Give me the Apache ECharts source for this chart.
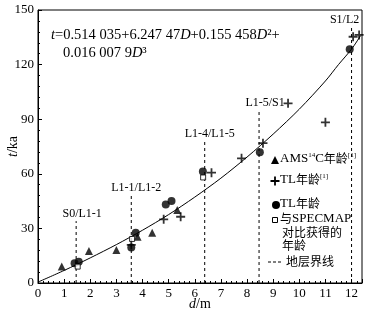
<!DOCTYPE html>
<html><head><meta charset="utf-8">
<script src="https://cdn.jsdelivr.net/npm/echarts@6/dist/echarts.min.js"></script>
<style>html,body{margin:0;padding:0;background:#fff}#c{width:373px;height:318px}</style>
</head><body><div id="c"></div>
<script>
// ---- data ----
const curveD = [0, 1, 2, 3, 4, 5, 6, 7, 8, 9, 10, 11, 11.5, 12, 12.35];
const curveT = [0.5, 6.9, 13.8, 21.1, 29.0, 37.6, 47.2, 57.6, 69.2, 81.8, 95.5, 111, 120, 128.5, 136];

const amsD = [0.91, 1.95, 3.0, 3.81, 4.37, 5.33];
const amsT = [9.0, 17.6, 18.1, 25.4, 27.6, 40.1];

const tl1D = [3.57, 4.81, 5.46, 6.64, 7.79, 8.61, 9.57, 11.0, 12.06, 12.29];
const tl1T = [20.9, 35.0, 36.4, 60.6, 68.5, 76.8, 98.7, 88.3, 135.3, 136.3];

const tlD = [1.40, 1.56, 3.57, 3.74, 4.89, 5.11, 6.31, 8.49, 11.93];
const tlT = [10.8, 11.7, 19.5, 27.6, 43.2, 45.1, 61.2, 71.8, 128.4];

const specD = [1.52, 3.60, 6.32];
const specT = [9.0, 24.2, 58.0];

const boundaryNames = ['S0/L1-1', 'L1-1/L1-2', 'L1-4/L1-5', 'L1-5/S1', 'S1/L2'];
const boundaryD = [1.46, 3.57, 6.38, 8.46, 12.0];
const boundaryTop = [34, 48.4, 78, 95, 140.8];

const xMin = 0, xMax = 12.4, xStep = 1;
const yMin = 0, yMax = 150, yStep = 30;

// ---- styling ----
const SERIF = '"Liberation Serif","DejaVu Serif",serif';
const CJK = '"Noto Sans CJK SC","Liberation Serif",serif';
const labelDx = [6, 5, 5, 6, -7];
const PLUS = 'path://M4,0H6V4H10V6H6V10H4V6H0V4H4Z';

const zip = (a, b) => a.map((v, i) => [v, b[i]]);

const series = [];
series.push({
  type: 'line', data: zip(curveD, curveT), smooth: 0.3, showSymbol: false,
  lineStyle: { color: '#000', width: 1 }, z: 2, silent: true
});
boundaryD.forEach((d, i) => {
  series.push({
    type: 'line', data: [[d, 0], [d, boundaryTop[i]]], showSymbol: false,
    lineStyle: { color: '#000', width: 1, type: [3, 3] }, z: 1, silent: true
  });
});
series.push({
  type: 'scatter', data: zip(amsD, amsT), symbol: 'triangle', symbolSize: 8,
  itemStyle: { color: '#000' }, z: 4
});
series.push({
  type: 'scatter', data: zip(tl1D, tl1T), symbol: PLUS, symbolSize: 9,
  itemStyle: { color: '#000' }, z: 4
});
series.push({
  type: 'scatter', data: zip(tlD, tlT), symbol: 'circle', symbolSize: 8,
  itemStyle: { color: '#000' }, z: 4
});
series.push({
  type: 'scatter', data: zip(specD, specT), symbol: 'rect', symbolSize: 5,
  itemStyle: { color: '#fff', borderColor: '#000', borderWidth: 1 }, z: 5
});

// legend drawn as graphic
const lx = 275, tx = 280;
const plusPts = (cx, cy, s) => {
  const a = s / 2, b = s / 10;
  return [[cx - b, cy - a], [cx + b, cy - a], [cx + b, cy - b], [cx + a, cy - b], [cx + a, cy + b], [cx + b, cy + b],
          [cx + b, cy + a], [cx - b, cy + a], [cx - b, cy + b], [cx - a, cy + b], [cx - a, cy - b], [cx - b, cy - b]];
};
const eqRich = { i: { fontFamily: SERIF, fontSize: 14.5, fontStyle: 'italic' }, n: { fontFamily: SERIF, fontSize: 14.5 } };
const graphic = [
  { type: 'text', x: 51, y: 28, style: { rich: eqRich,
      text: '{i|t}{n|=0.514 035+6.247 47}{i|D}{n|+0.155 458}{i|D}{n|²+}', fill: '#000' } },
  { type: 'text', x: 63, y: 46, style: { rich: eqRich,
      text: '{n|0.016 007 9}{i|D}{n|³}', fill: '#000' } },
  // legend markers
  { type: 'polygon', shape: { points: [[lx - 4, 164], [lx + 4, 164], [lx, 156]] }, style: { fill: '#000' } },
  { type: 'polygon', shape: { points: plusPts(lx, 181, 9) }, style: { fill: '#000' } },
  { type: 'circle', shape: { cx: lx + 1, cy: 205, r: 4 }, style: { fill: '#000' } },
  { type: 'rect', shape: { x: lx - 2.5, y: 217.5, width: 5, height: 5 }, style: { fill: '#fff', stroke: '#000', lineWidth: 1 } },
  { type: 'line', shape: { x1: 268, y1: 262, x2: 282, y2: 262 }, style: { stroke: '#000', lineWidth: 1, lineDash: [3, 2] } },
  // legend texts
  { type: 'text', x: tx, y: 152, style: {
      rich: { a: { fontFamily: SERIF, fontSize: 13 }, c: { fontFamily: CJK, fontSize: 12 }, s: { fontFamily: SERIF, fontSize: 7, verticalAlign: 'top' } },
      text: '{a|AMS}{s|14}{a|C}{c|年龄}{s|[1]}', fill: '#000' } },
  { type: 'text', x: tx, y: 173, style: {
      rich: { a: { fontFamily: SERIF, fontSize: 13 }, c: { fontFamily: CJK, fontSize: 12 }, s: { fontFamily: SERIF, fontSize: 7, verticalAlign: 'top' } },
      text: '{a|TL}{c|年龄}{s|[1]}', fill: '#000' } },
  { type: 'text', x: tx, y: 197, style: {
      rich: { a: { fontFamily: SERIF, fontSize: 13 }, c: { fontFamily: CJK, fontSize: 12 } },
      text: '{a|TL}{c|年龄}', fill: '#000' } },
  { type: 'text', x: tx, y: 212, style: {
      rich: { a: { fontFamily: SERIF, fontSize: 13 }, c: { fontFamily: CJK, fontSize: 12 } },
      text: '{c|与}{a|SPECMAP}', fill: '#000' } },
  { type: 'text', x: tx + 2, y: 226, style: { text: '对比获得的', fontFamily: CJK, fontSize: 12, fill: '#000' } },
  { type: 'text', x: tx + 2, y: 239, style: { text: '年龄', fontFamily: CJK, fontSize: 12, fill: '#000' } },
  { type: 'text', x: 286, y: 255, style: { text: '地层界线', fontFamily: CJK, fontSize: 12, fill: '#000' } }
];

const option = {
  animation: false,
  backgroundColor: '#fff',
  grid: { left: 38, top: 10, width: 324, height: 273, containLabel: false, outerBoundsMode: 'none',
    show: true, borderColor: '#000', borderWidth: 1, backgroundColor: 'transparent' },
  xAxis: {
    type: 'value', min: xMin, max: xMax, interval: xStep,
    name: '{i|d}{n|/m}', nameLocation: 'middle', nameGap: 14, nameMoveOverlap: false,
    nameTextStyle: { rich: { i: { fontFamily: SERIF, fontSize: 14, fontStyle: 'italic', color: '#000' }, n: { fontFamily: SERIF, fontSize: 14, color: '#000' } } },
    axisLine: { show: true, lineStyle: { color: '#000', width: 1 } },
    axisTick: { show: true, inside: true, length: 4, lineStyle: { color: '#000' } },
    minorTick: { show: true, splitNumber: 5, length: 2, lineStyle: { color: '#000' } },
    splitLine: { show: false }, minorSplitLine: { show: false },
    axisLabel: { color: '#000', fontFamily: SERIF, fontSize: 13, margin: 4, showMaxLabel: false,
      formatter: v => (Math.abs(v - Math.round(v)) < 1e-6 ? String(Math.round(v)) : '') }
  },
  yAxis: {
    type: 'value', min: yMin, max: yMax, interval: yStep,
    name: '{i|t}{n|/ka}', nameLocation: 'middle', nameGap: 18, nameRotate: 90, nameMoveOverlap: false,
    nameTextStyle: { rich: { i: { fontFamily: SERIF, fontSize: 14, fontStyle: 'italic', color: '#000' }, n: { fontFamily: SERIF, fontSize: 14, color: '#000' } } },
    axisLine: { show: true, lineStyle: { color: '#000', width: 1 } },
    axisTick: { show: true, inside: true, length: 4, lineStyle: { color: '#000' } },
    minorTick: { show: true, splitNumber: 5, length: 2, lineStyle: { color: '#000' } },
    splitLine: { show: false }, minorSplitLine: { show: false },
    axisLabel: { color: '#000', fontFamily: SERIF, fontSize: 13, margin: 4 }
  },
  graphic: graphic,
  series: series
};
const chart = echarts.init(document.getElementById('c'), null, { renderer: 'canvas' });
chart.setOption(option);

// boundary labels placed above each dashed line via the axis scales
const labelEls = boundaryNames.map((name, i) => {
  const p = chart.convertToPixel({ gridIndex: 0 }, [boundaryD[i], boundaryTop[i]]);
  return { type: 'text', x: p[0] + labelDx[i], y: p[1] - 1,
    style: { text: name, fontFamily: SERIF, fontSize: 12, fill: '#000', align: 'center', verticalAlign: 'bottom' } };
});
chart.setOption({ graphic: graphic.concat(labelEls) });
</script></body></html>
